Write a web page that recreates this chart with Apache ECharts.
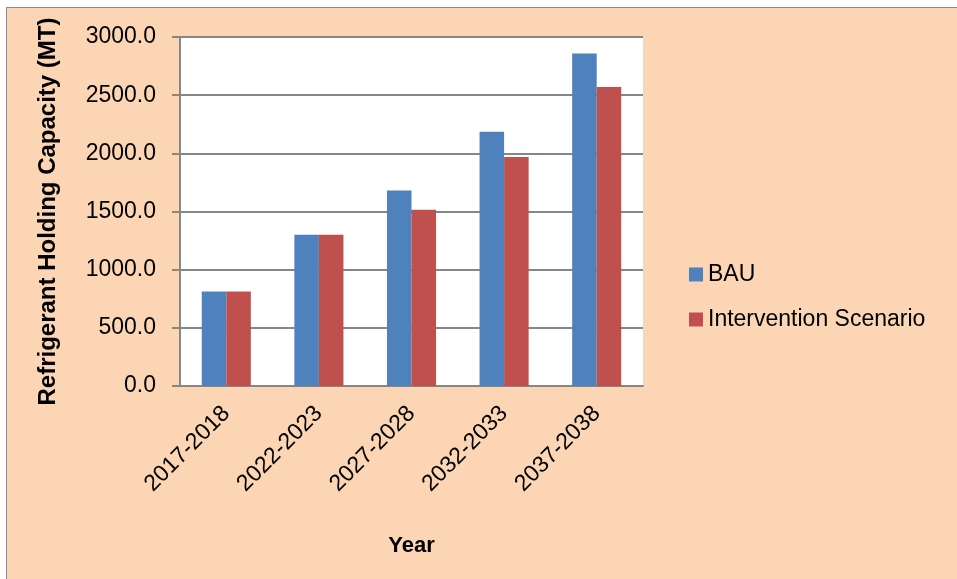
<!DOCTYPE html>
<html>
<head>
<meta charset="utf-8">
<script src="https://cdn.jsdelivr.net/npm/echarts@6/dist/echarts.min.js"></script>
<style>
  html, body { margin: 0; padding: 0; background: #fff; }
  .frame {
    position: absolute; left: 6px; top: 7px; width: 960px; height: 580px;
    background: #fcd5b5; border: 1.5px solid #8c8c8c;
  }
  #chart { position: absolute; left: 0; top: 0; width: 957px; height: 579px; }
</style>
</head>
<body>
<div class="frame"></div>
<div id="chart"></div>
<script>
// 各时期制冷剂持有量 (MT)
var years = ['2017-2018', '2022-2023', '2027-2028', '2032-2033', '2037-2038']
var bauList = [812, 1300, 1680, 2186, 2858]
var interventionList = [812, 1300, 1515, 1969, 2570]

var chart = echarts.init(document.getElementById('chart'))
var font = '"Liberation Sans", Arial, sans-serif'

chart.setOption({
  grid: {
    left: 180,
    right: 314,
    top: 37,
    bottom: 193,
    show: true,
    backgroundColor: '#ffffff',
    borderWidth: 0
  },
  legend: {
    orient: 'vertical',
    left: 684,
    top: 258,
    itemWidth: 14,
    itemHeight: 14,
    itemGap: 22,
    icon: 'rect',
    textStyle: { fontFamily: font, fontSize: 23, color: '#000' },
    data: ['BAU', 'Intervention Scenario']
  },
  xAxis: {
    type: 'category',
    data: years,
    name: 'Year',
    nameLocation: 'middle',
    nameGap: 149,
    nameTextStyle: { fontFamily: font, fontSize: 22, fontWeight: 'bold', color: '#000' },
    axisLine: { lineStyle: { color: '#868686', width: 2 } },
    axisTick: { show: false },
    axisLabel: {
      rotate: 45,
      margin: 24,
      fontFamily: font,
      fontSize: 23,
      color: '#000'
    }
  },
  yAxis: {
    type: 'value',
    min: 0,
    max: 3000,
    interval: 500,
    name: 'Refrigerant Holding Capacity (MT)',
    nameLocation: 'middle',
    nameGap: 120,
    nameTextStyle: { fontFamily: font, fontSize: 24, fontWeight: 'bold', color: '#000' },
    axisLine: { show: true, lineStyle: { color: '#868686', width: 2 } },
    axisTick: { show: true, length: 8, lineStyle: { color: '#868686', width: 2 } },
    splitLine: { lineStyle: { color: '#868686', width: 2 } },
    axisLabel: {
      margin: 24,
      fontFamily: font,
      fontSize: 23,
      color: '#000',
      formatter: function (v) { return v.toFixed(1) }
    }
  },
  series: [
    {
      name: 'BAU',
      type: 'bar',
      data: bauList,
      barGap: '0%',
      barCategoryGap: '47%',
      itemStyle: { color: '#4f81bd' }
    },
    {
      name: 'Intervention Scenario',
      type: 'bar',
      data: interventionList,
      barGap: '0%',
      barCategoryGap: '47%',
      itemStyle: { color: '#c0504d' }
    }
  ]
})
</script>
</body>
</html>
